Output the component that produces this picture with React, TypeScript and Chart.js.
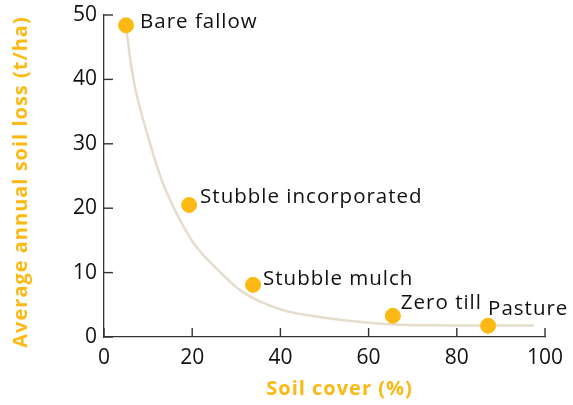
import React, { useEffect, useRef } from "react";
import { Chart, registerables } from "chart.js";

Chart.register(...registerables);

// Measured practices
const practices = ["Bare fallow", "Stubble incorporated", "Stubble mulch", "Zero till", "Pasture"];
const soilCover = [5, 19.3, 33.8, 65.5, 87.1];
const soilLoss = [48.4, 20.5, 8.1, 3.3, 1.75];

// Fitted trend curve
const curveX = [5, 7, 10.4, 13, 15, 17.2, 20.3, 23.5, 27.5, 31, 35.4, 41.5, 47, 52, 60, 67, 78, 90, 97.5];
const curveY = [48.0, 38.9, 30.1, 24.5, 21.3, 18.2, 14.6, 12.0, 9.3, 7.2, 5.5, 4.0, 3.3, 2.8, 2.2, 1.9, 1.8, 1.8, 1.8];

const xTicks = [0, 20, 40, 60, 80, 100];
const yTicks = [0, 10, 20, 30, 40, 50];

const xTitle = "Soil cover (%)";
const yTitle = "Average annual soil loss (t/ha)";

// label offsets (dx, dy) relative to each point, in px
const labelOffsets: [number, number][] = [
  [14, -3],
  [11, -8],
  [10, -6],
  [8, -13],
  [0, -17],
];

const ORANGE = "#FDB913";
const FONT = "'Open Sans', sans-serif";

export default function App() {
  const ref = useRef<HTMLCanvasElement | null>(null);
  useEffect(() => {
    document.body.style.margin = "0";
    const canvas = ref.current!;
    const innerTicks = {
      id: "innerTicks",
      afterDatasetsDraw(chart: any) {
        const ctx = chart.ctx;
        const meta = chart.getDatasetMeta(1);
        ctx.save();
        ctx.fillStyle = "#111";
        ctx.font = `20.5px ${FONT}`;
        ctx.letterSpacing = "1px";
        ctx.textAlign = "left";
        ctx.textBaseline = "middle";
        meta.data.forEach((el: any, i: number) => {
          const [dx, dy] = labelOffsets[i];
          ctx.fillText(practices[i], el.x + dx, el.y + dy);
        });
        ctx.restore();
      },
      afterDraw(chart: any) {
        const ctx = chart.ctx;
        const xs = chart.scales.x;
        const ys = chart.scales.y;
        const a = chart.chartArea;
        ctx.save();
        ctx.fillStyle = "#333";
        xTicks.forEach((v) => {
          const px = xs.getPixelForValue(v);
          ctx.fillRect(px - 0.7, a.bottom - 9, 1.4, 9);
        });
        yTicks.forEach((v) => {
          const py = ys.getPixelForValue(v);
          ctx.fillRect(a.left, py - 0.7, 9, 1.4);
        });
        ctx.fillStyle = ORANGE;
        ctx.font = `bold 20px ${FONT}`;
        ctx.letterSpacing = "1px";
        ctx.textAlign = "center";
        ctx.textBaseline = "middle";
        ctx.fillText(xTitle, (a.left + a.right) / 2 + 15, 389);
        ctx.translate(21, (a.top + a.bottom) / 2 + 6);
        ctx.rotate(-Math.PI / 2);
        ctx.fillText(yTitle, 0, 0);
        ctx.restore();
      },
    };
    const chart = new Chart(canvas, {
      type: "scatter",
      data: {
        datasets: [
          {
            type: "line",
            data: curveX.map((x, i) => ({ x, y: curveY[i] })),
            borderColor: "#e6dccd",
            borderWidth: 2.5,
            pointRadius: 0,
            tension: 0.4,
            showLine: true,
            order: 2,
          } as any,
          {
            data: soilCover.map((x, i) => ({ x, y: soilLoss[i] })),
            backgroundColor: ORANGE,
            borderColor: ORANGE,
            pointRadius: 7.5,
            pointHoverRadius: 7.5,
            order: 1,
          },
        ],
      },
      options: {
        responsive: false,
        animation: false,
        events: [],
        layout: { padding: { top: 15, right: 28, bottom: 0, left: 0 } },
        plugins: { legend: { display: false }, tooltip: { enabled: false } },
        scales: {
          x: {
            type: "linear",
            min: 0,
            max: 100,
            afterFit: (s: any) => { s.height = 68; s.paddingLeft = 0; s.paddingRight = 0; },
            afterBuildTicks: (s: any) => { s.ticks = xTicks.map((v) => ({ value: v })); },
            grid: { display: false, drawTicks: false },
            border: { display: true, color: "#333", width: 1.3 },
            ticks: { color: "#111", font: { family: FONT, size: 21 }, padding: 8, maxRotation: 0 },
          },
          y: {
            type: "linear",
            min: 0,
            max: 50,
            afterFit: (s: any) => { s.width = 104; s.paddingTop = 0; s.paddingBottom = 0; },
            afterBuildTicks: (s: any) => { s.ticks = yTicks.map((v) => ({ value: v })); },
            grid: { display: false, drawTicks: false },
            border: { display: true, color: "#333", width: 1.3 },
            ticks: { color: "#111", font: { family: FONT, size: 21 }, padding: 7 },
          },
        },
      },
      plugins: [innerTicks],
    });
    return () => chart.destroy();
  }, []);
  return (
    <div style={{ width: 573, height: 405 }}>
      <canvas ref={ref} width={573} height={405} style={{ width: 573, height: 405, display: "block" }} />
    </div>
  );
}
